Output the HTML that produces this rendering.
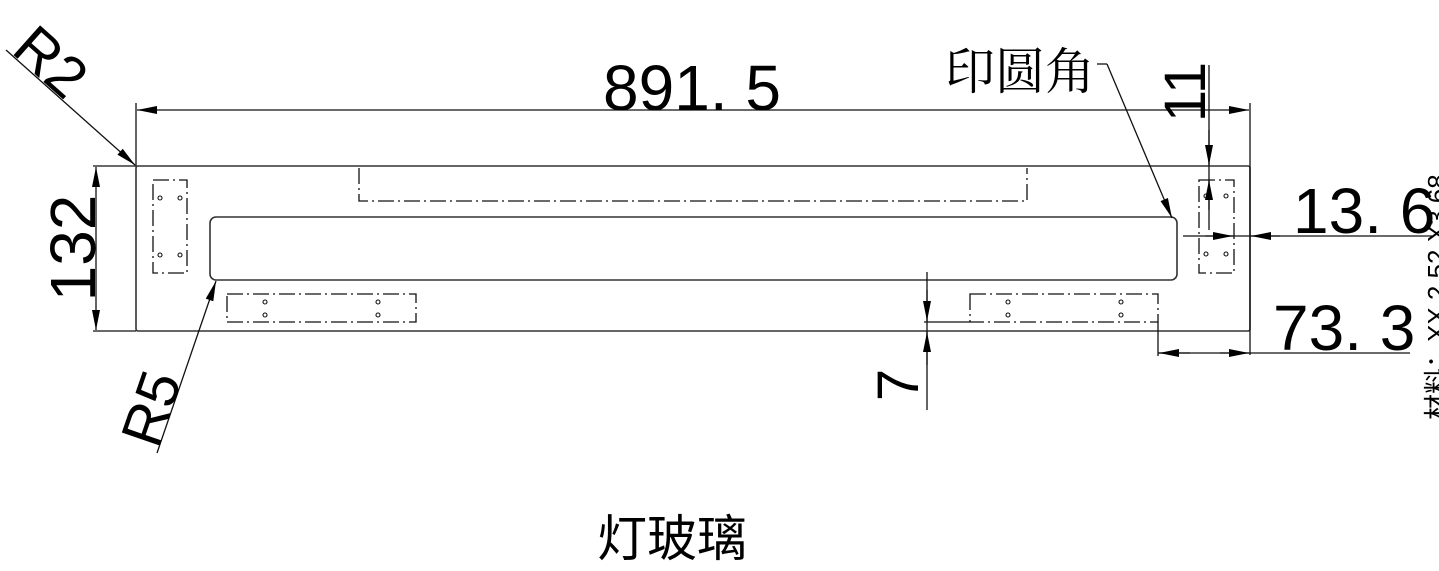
<!DOCTYPE html>
<html><head><meta charset="utf-8"><style>
html,body{margin:0;padding:0;background:#fff;}
svg{display:block;}
text{font-family:"Liberation Sans","Noto Sans CJK SC",sans-serif;fill:#000;}
</style></head><body>
<svg width="1439" height="571" viewBox="0 0 1439 571" xmlns="http://www.w3.org/2000/svg">
<defs>
<marker id="a" viewBox="0 0 10 4" refX="10" refY="2" markerWidth="28" markerHeight="8" markerUnits="userSpaceOnUse" orient="auto"><path d="M0,0L10,2L0,4z" fill="#000"/></marker>
</defs>
<g stroke="#333" stroke-width="1.6" fill="none">
<rect x="136" y="166" width="1114" height="165" rx="2"/>
<rect x="210" y="217" width="967" height="63" rx="6"/>
</g>
<g stroke="#111" stroke-width="1.3" fill="none" stroke-dasharray="16,4,2,4">
<path d="M359,168V201H1027V168"/>
<rect x="153" y="180" width="34" height="93"/>
<rect x="1199" y="180" width="35" height="93"/>
<rect x="227" y="294" width="189" height="28"/>
<rect x="970" y="294" width="188" height="28"/>
</g>
<g stroke="#111" stroke-width="1.1" fill="none">
<circle cx="160" cy="198" r="2"/><circle cx="180" cy="198" r="2"/><circle cx="160" cy="255" r="2"/><circle cx="180" cy="255" r="2"/>
<circle cx="1206" cy="196" r="2"/><circle cx="1226" cy="196" r="2"/><circle cx="1206" cy="254" r="2"/><circle cx="1226" cy="254" r="2"/>
<circle cx="265" cy="302" r="2"/><circle cx="265" cy="315" r="2"/><circle cx="378" cy="302" r="2"/><circle cx="378" cy="315" r="2"/>
<circle cx="1008" cy="302" r="2"/><circle cx="1008" cy="315" r="2"/><circle cx="1121" cy="302" r="2"/><circle cx="1121" cy="315" r="2"/>
</g>
<g stroke="#111" stroke-width="1.3" fill="none">
<line x1="136" y1="103" x2="136" y2="166"/>
<line x1="1250" y1="103" x2="1250" y2="355"/>
<line x1="180" y1="110" x2="137" y2="110" marker-end="url(#a)"/>
<line x1="1200" y1="110" x2="1249" y2="110" marker-end="url(#a)"/>
<line x1="180" y1="110" x2="1200" y2="110"/>
<line x1="93" y1="166" x2="136" y2="166"/>
<line x1="93" y1="331" x2="136" y2="331"/>
<line x1="96" y1="220" x2="96" y2="167" marker-end="url(#a)"/>
<line x1="96" y1="280" x2="96" y2="330" marker-end="url(#a)"/>
<line x1="96" y1="220" x2="96" y2="280"/>
<line x1="6" y1="50" x2="135" y2="165" marker-end="url(#a)"/>
<line x1="157" y1="453" x2="216" y2="281" marker-end="url(#a)"/>
<polyline points="1097,64 1107,64"/>
<line x1="1107" y1="64" x2="1172" y2="218" marker-end="url(#a)"/>
<line x1="927" y1="272" x2="927" y2="410"/>
<line x1="927" y1="290" x2="927" y2="321" marker-end="url(#a)"/>
<line x1="927" y1="365" x2="927" y2="332" marker-end="url(#a)"/>
<line x1="924" y1="322" x2="970" y2="322"/>
<line x1="1209" y1="65" x2="1209" y2="230"/>
<line x1="1209" y1="130" x2="1209" y2="165" marker-end="url(#a)"/>
<line x1="1209" y1="210" x2="1209" y2="180" marker-end="url(#a)"/>
<line x1="1183" y1="236" x2="1432" y2="236"/>
<line x1="1205" y1="236" x2="1233" y2="236" marker-end="url(#a)"/>
<line x1="1280" y1="236" x2="1251" y2="236" marker-end="url(#a)"/>
<line x1="1158" y1="322" x2="1158" y2="356"/>
<line x1="1158" y1="353" x2="1410" y2="353"/>
<line x1="1190" y1="353" x2="1159" y2="353" marker-end="url(#a)"/>
<line x1="1220" y1="353" x2="1249" y2="353" marker-end="url(#a)"/>
</g>
<text x="692" y="110" font-size="64" text-anchor="middle">891. 5</text>
<text x="0" y="0" font-size="64" text-anchor="middle" transform="translate(95,248) rotate(-90)">132</text>
<text x="0" y="0" font-size="58" transform="translate(10,52) rotate(41.7)">R2</text>
<text x="0" y="0" font-size="58" transform="translate(158,450) rotate(-71)">R5</text>
<text x="0" y="0" font-size="58" text-anchor="middle" transform="translate(918,385) rotate(-90)">7</text>
<text x="0" y="0" font-size="58" text-anchor="middle" transform="translate(1205,92) rotate(-90)">11</text>
<text x="1293" y="233" font-size="64">13. 6</text>
<text x="1273" y="350" font-size="64">73. 3</text>
<text x="945" y="89" font-size="50" style="font-family:'Noto Serif CJK SC',serif">印圆角</text>
<text x="672" y="556" font-size="50" text-anchor="middle">灯玻璃</text>
<text x="0" y="0" font-size="26" transform="translate(1446,420) rotate(-90)">材料：XX 2.52 X3.68</text>
</svg>
</body></html>
